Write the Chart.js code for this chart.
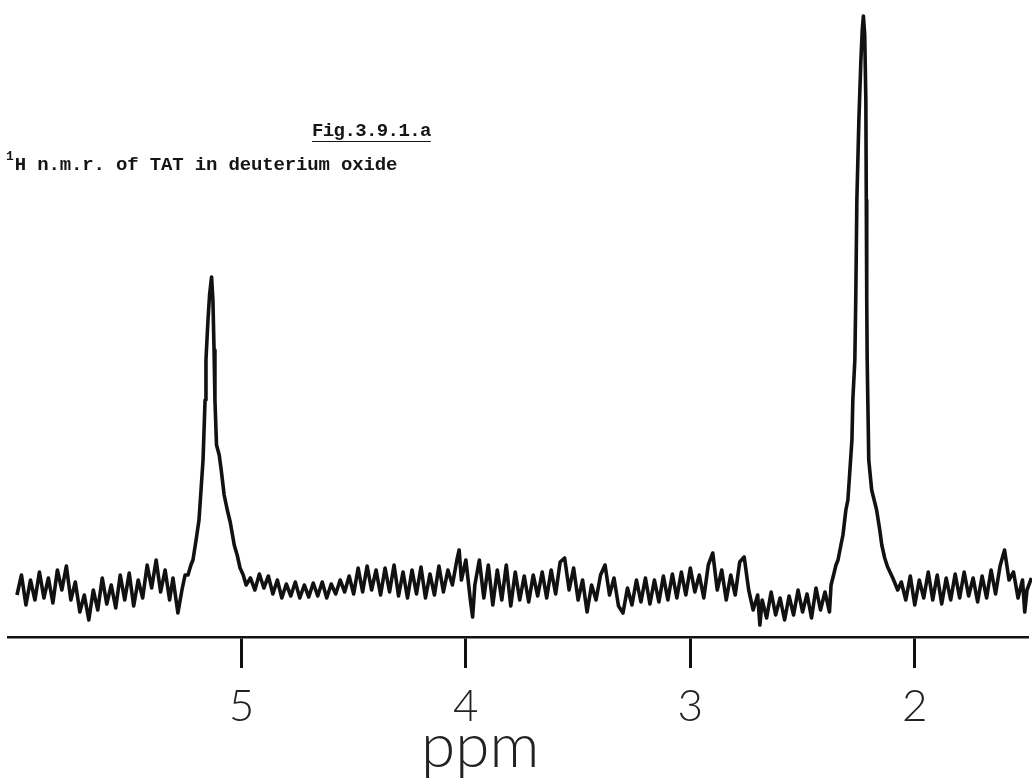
<!DOCTYPE html>
<html>
<head>
<meta charset="utf-8">
<script src="https://cdn.jsdelivr.net/npm/chart.js@4.4.1/dist/chart.umd.min.js"></script>
<style>
  html, body { margin: 0; padding: 0; background: #fff; }
  #wrap { position: relative; width: 1032px; height: 779px; overflow: hidden; background: #fff; }
  canvas { position: absolute; left: 0; top: 0; }
  .txt { position: absolute; font-family: 'Liberation Mono', 'DejaVu Sans Mono', monospace; color: #151515; line-height: 1; white-space: nowrap; }
  #fig { left: 312px; top: 122px; font-size: 19px; font-weight: bold; text-decoration: underline; text-underline-offset: 5px; letter-spacing: -0.6px; }
  #cap { left: 12px; top: 153px; font-size: 19px; font-weight: bold; letter-spacing: -0.15px; }
  #cap sup { font-size: 13px; position: relative; top: -3px; margin-left: -6px; margin-right: 1px; }
  #unit { position: absolute; left: 421px; top: 712px; font-family: 'Lato', 'DejaVu Sans', sans-serif; font-weight: 300; font-size: 62px; line-height: 1; color: #222; }
</style>
</head>
<body>
<div id="wrap">
  <canvas id="c" width="1032" height="779"></canvas>
  <div class="txt" id="fig">Fig.3.9.1.a</div>
  <div class="txt" id="cap"><sup>1</sup>H n.m.r. of TAT in deuterium oxide</div>
  <div id="unit">ppm</div>
</div>
<script>
const shift = [
  6.00,5.98,5.96,5.94,5.92,5.90,5.88,5.86,5.84,5.82,5.80,5.78,5.76,5.74,5.72,5.70,5.68,5.66,5.64,5.62,
  5.60,5.58,5.56,5.54,5.52,5.50,5.48,5.46,5.44,5.42,5.40,5.38,5.36,5.34,5.32,
  5.305,5.283,5.265,5.251,5.238,5.225,5.216,5.202,5.189,5.180,5.171,5.162,5.158,5.149,5.142,5.133,
  5.127,5.122,5.118,5.111,5.099,5.090,5.077,5.063,5.050,5.032,5.019,5.006,4.992,4.979,
  4.96,4.94,4.92,4.90,4.88,4.86,4.84,4.82,4.80,4.78,4.76,4.74,4.72,4.70,4.68,4.66,4.64,4.62,4.60,
  4.58,4.56,4.54,4.52,
  4.50,4.48,4.46,4.44,4.42,4.40,4.38,4.36,4.34,4.32,4.30,4.28,4.26,4.24,4.22,4.20,4.18,4.16,4.14,
  4.12,4.10,4.08,4.06,
  4.04,4.03,4.02,4.00,3.98,3.97,3.96,3.94,3.92,3.90,3.88,3.86,3.84,3.82,3.80,3.78,3.76,3.74,3.72,
  3.70,3.68,3.66,
  3.64,3.62,3.60,3.58,3.56,3.54,3.52,3.50,3.48,3.46,3.44,3.42,3.40,3.38,3.36,3.34,3.32,3.30,3.28,
  3.26,3.24,3.22,3.20,3.18,3.16,3.14,3.12,3.10,3.08,3.06,3.04,3.02,3.00,2.98,
  2.96,2.94,2.92,2.90,2.88,2.86,2.84,2.82,2.80,2.78,2.76,2.74,
  2.72,2.70,2.69,2.68,2.66,2.64,2.62,2.60,2.58,2.56,2.54,2.52,2.50,2.48,2.46,2.44,2.42,2.40,2.38,
  2.373,2.364,2.351,2.342,2.329,2.320,2.307,2.298,2.289,2.280,2.276,2.267,2.263,2.258,2.249,2.240,
  2.234,2.229,2.223,2.218,2.216,2.214,2.212,2.205,2.192,2.170,2.156,2.147,2.134,2.121,2.098,2.076,
  2.06,2.04,2.02,2.00,1.98,1.96,1.94,1.92,1.90,1.88,1.86,1.84,1.82,1.80,1.78,1.76,1.74,1.72,1.70,
  1.68,1.66,1.64,1.62,1.60,1.58,1.56,1.54,1.52,1.51,1.50,1.48
];
// signal intensity (arbitrary units above the base line) at each shift
const signal = [
  42,62,32,57,37,65,39,59,34,67,47,71,37,55,25,42,17,47,27,59,
  33,52,29,62,37,64,31,57,39,72,49,77,45,67,37,
  59,24,47,62,62,72,77,97,117,147,177,237,277,317,342,360,
  337,287,237,192,182,167,142,127,115,92,82,69,62,52,
  59,47,63,49,61,43,57,39,53,41,55,39,52,40,54,41,55,39,53,
  43,57,45,61,
  43,69,45,71,47,67,42,69,45,72,41,65,39,67,43,70,39,63,42,
  71,45,67,52,
  77,87,57,77,37,20,52,77,39,72,32,67,37,72,31,65,37,61,35,
  62,41,65,
  39,67,43,75,79,47,69,37,57,25,52,37,62,72,42,59,31,24,49,
  32,57,35,59,33,57,35,61,37,63,39,65,42,69,45,
  62,39,72,84,47,67,37,62,42,75,80,47,
  27,42,12,37,19,45,22,39,17,41,22,47,25,43,19,49,27,45,25,
  52,60,72,77,92,102,127,137,167,197,237,277,337,437,517,577,
  607,621,602,537,437,337,277,177,147,127,107,92,79,70,59,47,
  55,37,61,32,57,39,65,37,62,33,59,37,63,39,65,41,59,35,61,
  39,67,43,71,87,57,65,39,57,25,47,59
];
// labelled ticks of the ppm axis
const tickValues = [5, 4, 3, 2];
const tickLabels = ['5', '4', '3', '2'];

const points = shift.map((s, i) => ({ x: s, y: signal[i] }));

new Chart(document.getElementById('c'), {
  type: 'line',
  data: {
    datasets: [{
      data: points,
      borderColor: '#111',
      borderWidth: 3.6,
      borderJoinStyle: 'round',
      pointRadius: 0,
      tension: 0,
      fill: false,
      clip: false
    }]
  },
  options: {
    responsive: false,
    animation: false,
    devicePixelRatio: 1,
    layout: { padding: { left: 8, right: 5, top: 0, bottom: 0 } },
    plugins: { legend: { display: false }, tooltip: { enabled: false }, title: { display: false } },
    scales: {
      x: {
        type: 'linear',
        reverse: true,
        min: 1.50,
        max: 6.04,
        afterBuildTicks: (scale) => { scale.ticks = tickValues.map(v => ({ value: v })); },
        afterFit: (scale) => { scale.height = 142; },
        grid: { display: true, drawOnChartArea: false, drawTicks: true, tickLength: 31, color: '#111', lineWidth: 3 },
        border: { display: true, color: '#111', width: 2.5 },
        ticks: {
          padding: 12,
          color: '#222',
          font: { family: 'Lato', size: 44, weight: 300 },
          maxRotation: 0,
          callback: (v) => { const i = tickValues.indexOf(v); return i >= 0 ? tickLabels[i] : ''; }
        },
        title: { display: false }
      },
      y: { display: false, min: 0, max: 637 }
    }
  }
});
</script>
</body>
</html>
